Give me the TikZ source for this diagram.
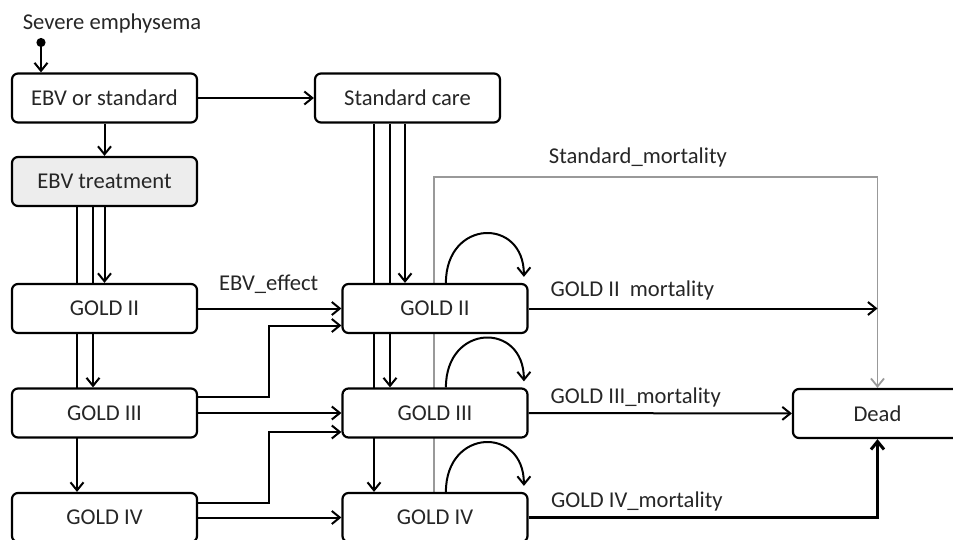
\documentclass[tikz,border=0pt]{standalone}
\usepackage{fontspec}
\setmainfont{Carlito}
\usetikzlibrary{calc}
\usetikzlibrary{arrows.meta}
\usetikzlibrary{backgrounds}

\begin{document}
\begin{tikzpicture}[x=0.5pt, y=-0.5pt,
  >={Straight Barb[length=4pt,width=6.5pt]},
  box/.style={draw, rounded corners=3pt, line width=1.1pt, fill=white, minimum width=92.5pt, minimum height=24.5pt, inner sep=0pt, text=black!85, font=\fontsize{11.3}{13}\selectfont},
  lbl/.style={inner sep=0pt, text=black!85, font=\fontsize{11.3}{13}\selectfont},
  arr/.style={->, line width=1pt},
  gline/.style={->, line width=0.9pt, draw=black!40}]
\useasboundingbox (0,0) rectangle (953,540);

  \node[lbl] (sev) at (112,23) {Severe emphysema};
  \coordinate (dot) at (41,38);

  \node[box] (choice) at (104.5,98) {EBV or standard};
  \node[box, fill=black!7] (ebv) at (104.5,181.5) {EBV treatment};
  \node[box] (std) at (407.5,98) {Standard care};

  \node[box] (l2) at (104.5,308.5) {GOLD II};
  \node[box] (l3) at (104.5,413) {GOLD III};
  \node[box] (l4) at (104.5,517.5) {GOLD IV};

  \node[box] (m2) at (435,308.5) {GOLD II};
  \node[box] (m3) at (435,413) {GOLD III};
  \node[box] (m4) at (435,517.5) {GOLD IV};

  \node[box, minimum width=84.5pt] (dead) at (877.5,413.5) {Dead};

\draw[line width=1pt, {Circle[length=4.5pt]}->] (dot) -- (dot |- choice.north) ; % entry
\draw[arr] (choice) -- (std) ;
\draw[arr] (choice) -- (ebv) ;

% left column, lines that run behind the boxes
\coordinate (e1) at ($(ebv.south)+(-11.5,0)$);
\coordinate (e2) at ($(ebv.south)+(-27.5,0)$);
\draw[arr] (ebv) -- (l2) ;
\begin{scope}[on background layer]
\draw[arr] (e1) -- (e1 |- l3.north) ;
\draw[arr] (e2) -- (e2 |- l4.north) ;
\end{scope}

% middle column, same again
\coordinate (s0) at ($(std.south)+(-2.5,0)$);
\coordinate (s1) at ($(std.south)+(-17.5,0)$);
\coordinate (s2) at ($(std.south)+(-33.5,0)$);
\draw[arr] (s0) -- (s0 |- m2.north) ;
\begin{scope}[on background layer]
\draw[arr] (s1) -- (s1 |- m3.north) ;
\draw[arr] (s2) -- (s2 |- m4.north) ;
% standard mortality
\coordinate (g0) at ($(m4.north west)+(92.5,0)$);
\draw[gline] (g0) -- ++(0,-315) -| (dead.north) node[lbl, pos=0.23, anchor=base, yshift=6.5pt] {Standard\_mortality} ;
\end{scope}

% left to middle
\coordinate (a3) at ($(l3.east)+(0,-16)$);
\coordinate (a4) at ($(l4.east)+(0,-15)$);
\coordinate (b2) at ($(m2.west)+(0,17)$);
\coordinate (b3) at ($(m3.west)+(0,19)$);
\draw[arr] (l2) -- (m2) node[lbl, pos=0, anchor=base west, xshift=10pt, yshift=9pt] {EBV\_effect} ;
\draw[arr] (a3) -- ++(71,0) |- (b2) ;
\draw[arr] (l3) -- (m3) ;
\draw[arr] (a4) -- ++(71,0) |- (b3) ;
\draw[arr] (l4) -- (m4) ;

% self loops
\foreach \n in {m2,m3,m4} {
  \draw[arr] ($(\n.north west)+(104.5,0)$) .. controls +(0,-64) and +(0,-60) .. ($(\n.north west)+(182.5,-6)$) ;
}

% mortality
\draw[arr] (m2.east) -- (m2.east -| dead.north) node[lbl, pos=0, anchor=base west, xshift=10.5pt, yshift=6pt] {GOLD II\ \ mortality} ;
\draw[arr] (m3) -- (dead) node[lbl, pos=0, anchor=base west, xshift=10.5pt, yshift=5pt] {GOLD III\_mortality} ;
\draw[arr, line width=1.5pt] (m4.east) -| (dead.south) node[lbl, pos=0, anchor=base west, xshift=10.5pt, yshift=5pt] {GOLD IV\_mortality} ;

\end{tikzpicture}
\end{document}
